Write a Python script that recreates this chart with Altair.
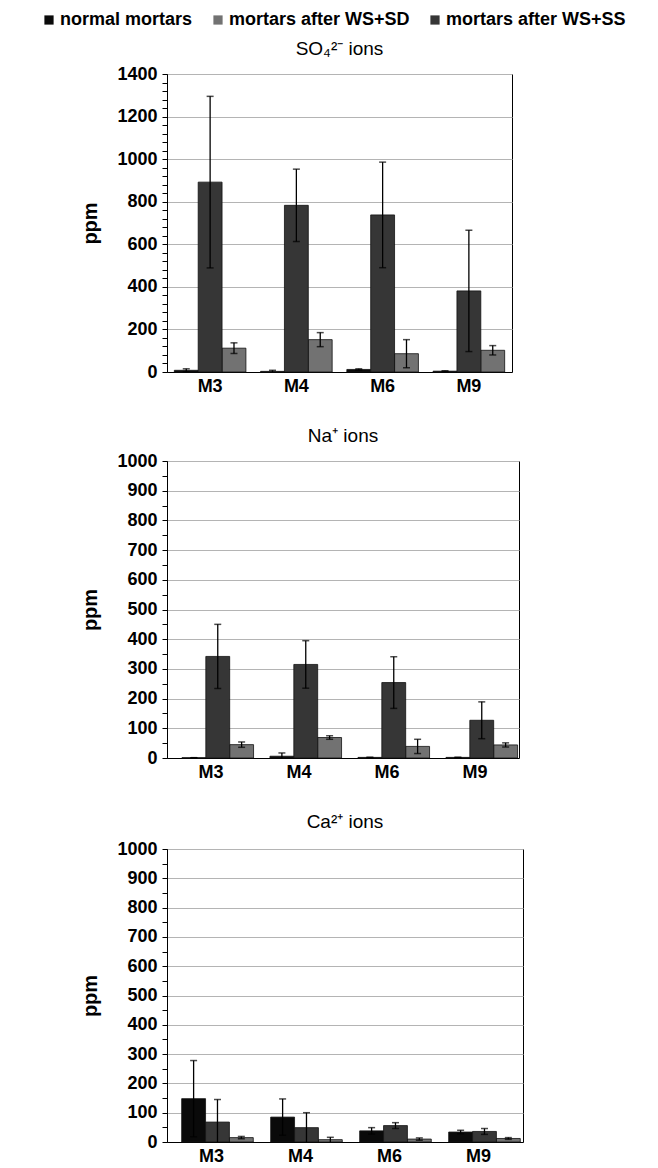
import altair as alt
import pandas as pd

FONT = "Liberation Sans"

samples = ["M3", "M4", "M6", "M9"]
series = ["normal mortars", "mortars after WS+SD", "mortars after WS+SS"]
bar_order = ["normal mortars", "mortars after WS+SS", "mortars after WS+SD"]
colors = ["#0a0a0a", "#727272", "#363636"]

# SO4 2- ions (ppm)
so4_normal = [8, 3, 12, 4]
so4_normal_err = [7, 5, 3, 2]
so4_sd = [112, 152, 86, 102]
so4_sd_err = [25, 33, 66, 22]
so4_ss = [892, 783, 738, 381]
so4_ss_err = [403, 170, 248, 285]

# Na+ ions (ppm)
na_normal = [1, 6, 2, 2]
na_normal_err = [0, 11, 0, 0]
na_sd = [45, 69, 39, 44]
na_sd_err = [9, 6, 24, 7]
na_ss = [342, 315, 254, 127]
na_ss_err = [108, 80, 87, 62]

# Ca2+ ions (ppm)
ca_normal = [148, 85, 38, 34]
ca_normal_err = [130, 62, 11, 6]
ca_sd = [15, 8, 10, 12]
ca_sd_err = [4, 8, 4, 3]
ca_ss = [68, 49, 56, 36]
ca_ss_err = [77, 51, 10, 10]


def make_df(normal, normal_err, sd, sd_err, ss, ss_err):
    rows = []
    for i, s in enumerate(samples):
        for name, vals, errs in [
            ("normal mortars", normal, normal_err),
            ("mortars after WS+SD", sd, sd_err),
            ("mortars after WS+SS", ss, ss_err),
        ]:
            v = vals[i]
            e = errs[i]
            rows.append(dict(sample=s, series=name, value=v, lo=max(v - e, 0), hi=v + e))
    return pd.DataFrame(rows)


legend = alt.Legend(
    orient="none", legendX=-127, legendY=-63, direction="horizontal", title=None,
    symbolType="square", symbolSize=85, symbolStrokeWidth=0,
    labelFont=FONT, labelFontSize=18, labelFontWeight="bold", labelColor="black",
    labelLimit=400, columnPadding=16, labelOffset=2, padding=0,
)


def panel(df, title, ymax, major, minor, width, height, pad, toff):
    x = alt.X("sample:N", sort=samples,
              scale=alt.Scale(paddingInner=pad, paddingOuter=pad / 2),
              axis=alt.Axis(title=None, labelAngle=0, ticks=False, domainColor="black",
                            labelFont=FONT, labelFontSize=18, labelFontWeight="bold",
                            labelColor="black", labelPadding=5, grid=False))
    xo = alt.XOffset("series:N", sort=bar_order, scale=alt.Scale(paddingInner=0, paddingOuter=0))
    yaxis = alt.Axis(
        title="ppm", values=list(range(0, ymax + 1, minor)), format="d",
        labelExpr=f"datum.value % {major} === 0 ? datum.label : ''",
        labelOverlap=False,
        gridColor={"condition": {"test": f"datum.value % {major} === 0", "value": "#b4b4b4"},
                   "value": "transparent"},
        gridWidth=1.2,
        tickColor="black", tickSize=5, domainColor="black",
        labelFont=FONT, labelFontSize=18, labelFontWeight="bold", labelColor="black",
        labelPadding=5,
        titleFont=FONT, titleFontSize=20, titleFontWeight="bold", titleColor="black",
        titlePadding=16,
    )
    yscale = alt.Scale(domain=[0, ymax], nice=False)
    base = alt.Chart(df).encode(x=x, xOffset=xo)
    bars = base.mark_bar(stroke="#111111", strokeWidth=0.8).encode(
        y=alt.Y("value:Q", scale=yscale, axis=yaxis),
        color=alt.Color("series:N", scale=alt.Scale(domain=series, range=colors), legend=legend),
    )
    rules = base.mark_rule(color="black", strokeWidth=1.3).encode(
        y=alt.Y("lo:Q", scale=yscale, axis=yaxis), y2="hi:Q")
    caps_hi = base.mark_tick(color="black", thickness=1.5, size=7).encode(
        y=alt.Y("hi:Q", scale=yscale, axis=yaxis))
    caps_lo = base.transform_filter("datum.lo > 0").mark_tick(
        color="black", thickness=1.5, size=7).encode(y=alt.Y("lo:Q", scale=yscale, axis=yaxis))
    return alt.layer(bars, rules, caps_hi, caps_lo).properties(
        width=width, height=height,
        title=alt.TitleParams(title, font=FONT, fontSize=19, fontWeight="normal",
                              color="black", offset=toff, anchor="middle"),
    )


p1 = panel(make_df(so4_normal, so4_normal_err, so4_sd, so4_sd_err, so4_ss, so4_ss_err),
           "SO₄²⁻ ions", 1400, 200, 40, 345, 298, 0.17, 6)
p2 = panel(make_df(na_normal, na_normal_err, na_sd, na_sd_err, na_ss, na_ss_err),
           "Na⁺ ions", 1000, 100, 50, 352, 297, 0.34, 6)
p3 = panel(make_df(ca_normal, ca_normal_err, ca_sd, ca_sd_err, ca_ss, ca_ss_err),
           "Ca²⁺ ions", 1000, 100, 50, 356, 293, 0.33, 8)

chart = alt.vconcat(p1, p2, p3, spacing=30).properties(
    padding={"left": 32, "right": 5, "top": 3, "bottom": 2},
    background="white",
).configure_view(stroke="black", strokeWidth=1)

chart.save("out.html", embed_options={"renderer": "svg", "actions": False})
